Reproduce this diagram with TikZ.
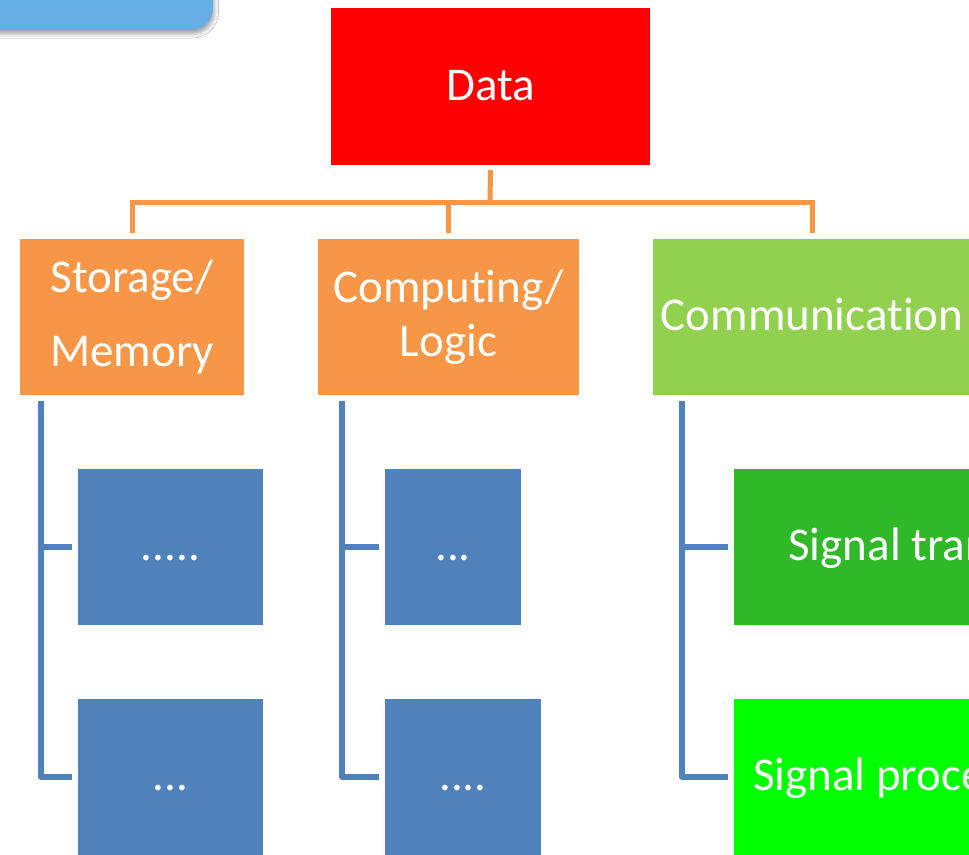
\documentclass[tikz,border=0pt]{standalone}
\usepackage{fontspec}
\setmainfont{Carlito}[Ligatures=NoCommon]
\usetikzlibrary{shadows.blur}

\definecolor{hdrblue}{HTML}{66AEE4}
\definecolor{datared}{HTML}{FF0000}
\definecolor{accorange}{HTML}{F79646}
\definecolor{accgreen}{HTML}{92D050}
\definecolor{accblue}{HTML}{4F81BD}
\definecolor{sigdark}{HTML}{2FB828}
\definecolor{siglime}{HTML}{00FF00}

\tikzset{
  box/.style={rectangle, inner sep=0pt, text=white,
    font=\fontsize{47}{56}\selectfont},
  oneline/.style={box, text height=36pt, text depth=9pt},
  tree/.style={draw=accorange, line width=5pt},
  branch/.style={draw=accblue, line width=5.5pt, line join=round},
}

\begin{document}
\begin{tikzpicture}[x=1pt,y=-1pt]
\useasboundingbox (0,0) rectangle (969,854);
\clip (0,0) rectangle (969,854);
\fill[white] (0,0) rectangle (969,854);

% rounded tab in the top-left corner
\node[fill=hdrblue, rounded corners=22pt, minimum width=300pt, minimum height=80pt,
  blur shadow={shadow xshift=1.5pt, shadow yshift=-4pt, shadow blur radius=4pt, shadow opacity=35}]
  (tab) at (63,-10) {};

% root
\node[oneline, fill=datared, minimum width=319pt, minimum height=157pt] (data) at (490.5,86.5) {Data};

% second level
\node[box, fill=accorange, align=center, minimum width=224pt, minimum height=156pt,
  font=\fontsize{47}{74}\selectfont] (storage) at (132,317) {Storage/\\Memory};
\node[box, fill=accorange, align=center, minimum width=261pt, minimum height=156pt,
  font=\fontsize{47}{54}\selectfont] (computing) at (448.5,317) {Computing/\\Logic};
\node[oneline, fill=accgreen, minimum width=318pt, minimum height=156pt] (comm) at (812,317) {Communication};

% third level
\node[oneline, fill=accblue, minimum width=185pt, minimum height=156pt] (s1) at (170.5,547) {.....};
\node[oneline, fill=accblue, minimum width=185pt, minimum height=156pt] (s2) at (170.5,777) {...};
\node[oneline, fill=accblue, minimum width=136pt, minimum height=156pt] (c1) at (453,547) {...};
\node[oneline, fill=accblue, minimum width=156pt, minimum height=156pt] (c2) at (463,777) {....};
\node[oneline, fill=sigdark, minimum width=474pt, minimum height=156pt] (m1) at (971,547) {Signal transmission};
\node[oneline, fill=siglime, minimum width=364pt, minimum height=156pt] (m2) at (916,777) {Signal processing};

% orange bracket from the root to the second level
\coordinate (bar) at (490,202);
\draw[tree] ([yshift=-5pt]data.south) -- (bar);
\draw[tree] ([yshift=6pt]storage.north) |- (bar) -| ([yshift=6pt]comm.north);
\draw[tree] ([yshift=6pt]computing.north) -- (computing.north |- bar);

% blue side rails to the third level
\coordinate (sv) at ([xshift=21pt,yshift=-6pt]storage.south west);
\draw[branch] (sv) |- ([xshift=-6pt]s2.west);
\draw[branch] (sv |- s1.west) -- ([xshift=-6pt]s1.west);

\coordinate (cv) at ([xshift=24pt,yshift=-6pt]computing.south west);
\draw[branch] (cv) |- ([xshift=-6pt]c2.west);
\draw[branch] (cv |- c1.west) -- ([xshift=-6pt]c1.west);

\coordinate (mv) at ([xshift=29pt,yshift=-6pt]comm.south west);
\draw[branch] (mv) |- ([xshift=-6pt]m2.west);
\draw[branch] (mv |- m1.west) -- ([xshift=-6pt]m1.west);
\end{tikzpicture}
\end{document}
